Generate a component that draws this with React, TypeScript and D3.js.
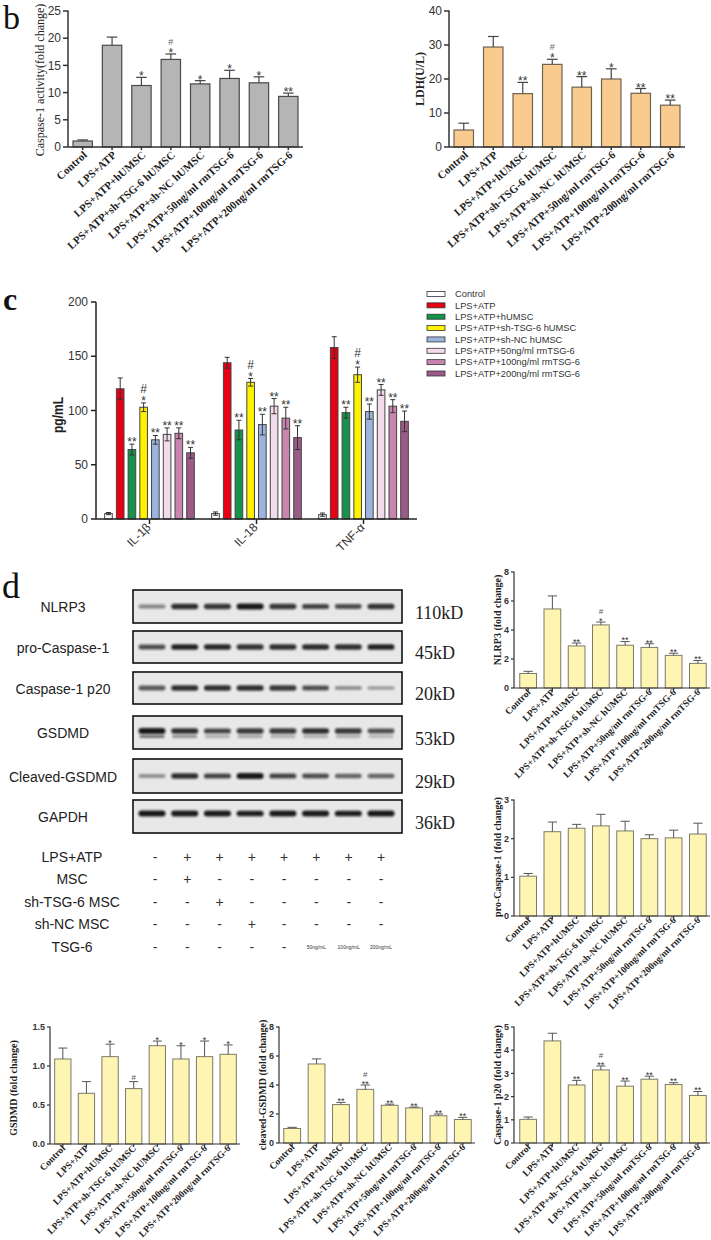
import React from "react";
import * as d3 from "d3";

const SERIF = "'Liberation Serif','Times New Roman',serif";
const SANS = "'Liberation Sans',Arial,Helvetica,sans-serif";

// ---------- data ----------
const groups = [
  "Control",
  "LPS+ATP",
  "LPS+ATP+hUMSC",
  "LPS+ATP+sh-TSG-6 hUMSC",
  "LPS+ATP+sh-NC hUMSC",
  "LPS+ATP+50ng/ml rmTSG-6",
  "LPS+ATP+100ng/ml rmTSG-6",
  "LPS+ATP+200ng/ml rmTSG-6",
];

// panel b
const casp1Activity = [1.1, 18.7, 11.3, 16.1, 11.6, 12.6, 11.8, 9.3];
const casp1ActivityErr = [0.2, 1.5, 1.5, 1.0, 0.6, 1.5, 1.1, 0.6];
const casp1ActivitySig = ["", "", "*", "#|*", "*", "*", "*", "**"];
const casp1ActivityTicks = [0, 5, 10, 15, 20, 25];

const ldh = [5.0, 29.4, 15.7, 24.3, 17.6, 20.0, 15.8, 12.3];
const ldhErr = [2.0, 3.1, 3.3, 1.5, 3.1, 3.0, 1.4, 1.5];
const ldhSig = ["", "", "**", "#|*", "**", "*", "**", "**"];
const ldhTicks = [0, 10, 20, 30, 40];

// panel c
const cytokines = ["IL-1β", "IL-18", "TNF-α"];
const il1b = [5, 120, 64, 103, 73, 78, 79, 61];
const il1bErr = [1, 10, 5, 4, 4, 6, 5, 5];
const il18 = [5, 144, 82, 126, 87, 104, 93, 75];
const il18Err = [1.5, 5, 9, 3.5, 9.5, 7, 10, 11];
const tnf = [4, 158, 98, 133, 99, 119, 104, 90];
const tnfErr = [1.5, 10, 5, 7, 7, 5, 6, 9.5];
const cytoSig = ["", "", "**", "#|*", "**", "**", "**", "**"];
const cytoTicks = [0, 50, 100, 150, 200];
const groupColors = ["#ffffff", "#e60012", "#16934a", "#fff200", "#9db5de", "#f3dcea", "#c985ad", "#9c5b87"];

// panel d – western blot (relative band intensity per lane)
const blotNames = ["NLRP3", "pro-Caspase-1", "Caspase-1 p20", "GSDMD", "Cleaved-GSDMD", "GAPDH"];
const blotKd = ["110kD", "45kD", "20kD", "53kD", "29kD", "36kD"];
const nlrp3Bands = [0.45, 0.85, 0.8, 0.95, 0.8, 0.75, 0.7, 0.82];
const proCaspBands = [0.7, 0.9, 0.88, 0.82, 0.84, 0.86, 0.84, 0.9];
const p20Bands = [0.65, 0.85, 0.85, 0.85, 0.8, 0.7, 0.4, 0.35];
const gsdmdBands = [0.95, 0.85, 0.75, 0.8, 0.8, 0.85, 0.8, 0.7];
const gsdmdLowerBands = [0.6, 0.45, 0.3, 0.35, 0.3, 0.3, 0.3, 0.25];
const cleavedBands = [0.4, 0.85, 0.75, 0.95, 0.75, 0.7, 0.6, 0.6];
const gapdhBands = [0.95, 0.93, 0.93, 0.92, 0.93, 0.93, 0.92, 0.94];

const treatLabels = ["LPS+ATP", "MSC", "sh-TSG-6 MSC", "sh-NC MSC", "TSG-6"];
const lpsAtpRow = ["-", "+", "+", "+", "+", "+", "+", "+"];
const mscRow = ["-", "+", "-", "-", "-", "-", "-", "-"];
const shTsgRow = ["-", "-", "+", "-", "-", "-", "-", "-"];
const shNcRow = ["-", "-", "-", "+", "-", "-", "-", "-"];
const tsg6Row = ["-", "-", "-", "-", "-", "50ng/mL", "100ng/mL", "200ng/mL"];

// densitometry
const nlrp3 = [1.0, 5.45, 2.9, 4.35, 2.95, 2.8, 2.25, 1.7];
const nlrp3Err = [0.15, 0.9, 0.2, 0.2, 0.25, 0.25, 0.15, 0.2];
const nlrp3Sig = ["", "", "**", "#|*", "**", "**", "**", "**"];
const proCasp = [1.03, 2.18, 2.27, 2.33, 2.2, 2.0, 2.02, 2.12];
const proCaspErr = [0.07, 0.25, 0.1, 0.3, 0.25, 0.1, 0.2, 0.28];
const proCaspSig = ["", "", "", "", "", "", "", ""];
const gsdmd = [1.09, 0.65, 1.12, 0.71, 1.26, 1.09, 1.12, 1.15];
const gsdmdErr = [0.14, 0.15, 0.16, 0.09, 0.06, 0.17, 0.2, 0.12];
const gsdmdSig = ["", "", "*", "#", "*", "*", "*", "*"];
const cleaved = [1.0, 5.45, 2.65, 3.7, 2.6, 2.42, 1.88, 1.62];
const cleavedErr = [0.08, 0.35, 0.15, 0.3, 0.08, 0.06, 0.12, 0.15];
const cleavedSig = ["", "", "**", "#|**", "**", "**", "**", "**"];
const p20 = [1.02, 4.4, 2.5, 3.15, 2.45, 2.75, 2.52, 2.05];
const p20Err = [0.1, 0.33, 0.2, 0.17, 0.22, 0.13, 0.08, 0.17];
const p20Sig = ["", "", "**", "#|**", "**", "**", "**", "**"];

// ---------- helpers ----------
function Sig({ text, cx, yErr, fs, hashFs, color, hashColor }: any) {
  if (!text) return null;
  const lines = text.split("|");
  let y = yErr - 2;
  const out: any[] = [];
  for (let i = lines.length - 1; i >= 0; i--) {
    const t = lines[i];
    if (t.includes("*")) {
      const base = y + 0.42 * fs;
      out.push(
        <text key={i} x={cx} y={base} fontSize={fs} fontFamily={SANS} fill={color} textAnchor="middle">
          {t}
        </text>
      );
      y = base - 0.74 * fs - 3;
    } else {
      out.push(
        <text key={i} x={cx} y={y} fontSize={hashFs} fontFamily={SANS} fill={hashColor} textAnchor="middle">
          {t}
        </text>
      );
      y = y - 0.72 * hashFs - 3;
    }
  }
  return <g>{out}</g>;
}

function BarPanel(p: any) {
  const n = p.values.length;
  const x = d3.scaleBand<number>().domain(d3.range(n)).range([p.bandX0, p.bandX1]).paddingInner(p.pad).paddingOuter(p.pad / 2);
  const y = d3.scaleLinear().domain([0, p.yMax]).range([p.yBottom, p.yTop]);
  const bw = x.bandwidth();
  const capW = bw * 0.55;
  const fmt = p.tickFormat || ((v: number) => String(v));
  return (
    <g>
      {p.values.map((v: number, i: number) => (
        <rect key={"b" + i} x={x(i)} y={y(v)} width={bw} height={p.yBottom - y(v)} fill={p.fill} stroke={p.stroke} strokeWidth={p.barStroke} />
      ))}
      {p.values.map((v: number, i: number) => {
        const cx = (x(i) as number) + bw / 2;
        const yt = y(v + p.errors[i]);
        return (
          <g key={"e" + i} stroke={p.errColor} strokeWidth={p.errWidth}>
            <line x1={cx} x2={cx} y1={y(v)} y2={yt} />
            <line x1={cx - capW / 2} x2={cx + capW / 2} y1={yt} y2={yt} />
          </g>
        );
      })}
      <line x1={p.axisX} x2={p.axisX} y1={p.yTop - 0.5} y2={p.yBottom} stroke={p.axisColor} strokeWidth={p.axisWidth} />
      <line x1={p.axisX} x2={p.bandX1} y1={p.yBottom} y2={p.yBottom} stroke={p.axisColor} strokeWidth={p.axisWidth} />
      {p.ticks.map((t: number) => (
        <g key={"t" + t}>
          <line x1={p.axisX - p.tickLen} x2={p.axisX} y1={y(t)} y2={y(t)} stroke={p.axisColor} strokeWidth={p.axisWidth} />
          <text x={p.axisX - p.tickLen - 2} y={y(t)} dy="0.35em" textAnchor="end" fontFamily={SANS} fontSize={p.tickFs} fontWeight={p.tickWeight} fill="#333">
            {fmt(t)}
          </text>
        </g>
      ))}
      {p.labels.map((l: string, i: number) => {
        const cx = (x(i) as number) + bw / 2;
        return (
          <g key={"x" + i}>
            <line x1={cx} x2={cx} y1={p.yBottom} y2={p.yBottom + p.xTick} stroke={p.axisColor} strokeWidth={p.axisWidth} />
            <text
              transform={`translate(${cx + p.xlDx},${p.yBottom + p.xlDy}) rotate(${p.xlRot})`}
              textAnchor="end"
              fontFamily={SERIF}
              fontWeight="bold"
              fontSize={p.xlFs}
              fill="#222"
            >
              {l}
            </text>
          </g>
        );
      })}
      <text
        transform={`translate(${p.yLabelX},${p.yLabelY}) rotate(-90)`}
        textAnchor="middle"
        dy="0.35em"
        fontFamily={SERIF}
        fontWeight={p.yLabelWeight}
        fontSize={p.yLabelFs}
        fill="#222"
      >
        {p.yLabel}
      </text>
      {p.sig.map((s: string, i: number) => (
        <Sig key={"s" + i} text={s} cx={(x(i) as number) + bw / 2} yErr={y(p.values[i] + p.errors[i])} fs={p.starFs} hashFs={p.hashFs} color="#333" hashColor={p.hashColor} />
      ))}
    </g>
  );
}

const smallStyle = {
  pad: 0.31,
  fill: "#fff5b3",
  stroke: "#7c7a6a",
  barStroke: 1,
  errColor: "#555",
  errWidth: 1,
  axisColor: "#333",
  axisWidth: 1.2,
  tickLen: 3,
  tickFs: 9,
  tickWeight: "bold",
  xTick: 3,
  xlDx: 3,
  xlDy: 5,
  xlRot: -45,
  xlFs: 9.5,
  yLabelWeight: "bold",
  yLabelFs: 10,
  starFs: 9,
  hashFs: 8,
  hashColor: "#555",
  labels: groups,
};

const bigStyle = {
  pad: 0.34,
  barStroke: 1.2,
  errColor: "#444",
  errWidth: 1.2,
  axisColor: "#333",
  axisWidth: 1.5,
  tickLen: 5,
  tickFs: 12,
  tickWeight: "normal",
  xTick: 3,
  xlDx: 5,
  xlDy: 9,
  xlRot: -42,
  xlFs: 11,
  yLabelFs: 12,
  starFs: 12,
  hashFs: 9,
  hashColor: "#666",
  labels: groups,
};

function GroupedPanel() {
  const x0 = 96, x1 = 417, yB = 519, yT = 302;
  const series = [il1b, il18, tnf];
  const errs = [il1bErr, il18Err, tnfErr];
  const xg = d3.scaleBand<string>().domain(cytokines).range([x0, x1]).paddingInner(0.14).paddingOuter(0.07);
  const xs = d3.scaleBand<number>().domain(d3.range(groups.length)).range([0, xg.bandwidth()]).paddingInner(0.35).paddingOuter(0.1);
  const y = d3.scaleLinear().domain([0, 200]).range([yB, yT]);
  const bw = xs.bandwidth();
  return (
    <g>
      {cytokines.map((c, gi) => (
        <g key={c} transform={`translate(${xg(c)},0)`}>
          {series[gi].map((v, i) => {
            const cx = (xs(i) as number) + bw / 2;
            const e = errs[gi][i];
            return (
              <g key={i}>
                <rect x={xs(i)} y={y(v)} width={bw} height={yB - y(v)} fill={groupColors[i]} stroke="#444" strokeWidth={1} />
                <g stroke="#333" strokeWidth={1}>
                  <line x1={cx} x2={cx} y1={y(v - e)} y2={y(v + e)} />
                  <line x1={cx - 2.5} x2={cx + 2.5} y1={y(v + e)} y2={y(v + e)} />
                  <line x1={cx - 2.5} x2={cx + 2.5} y1={y(v - e)} y2={y(v - e)} />
                </g>
                <Sig text={cytoSig[i]} cx={cx} yErr={y(v + e) - 1} fs={12} hashFs={12} color="#333" hashColor="#333" />
              </g>
            );
          })}
        </g>
      ))}
      <line x1={x0} x2={x0} y1={yT} y2={yB} stroke="#222" strokeWidth={1.5} />
      <line x1={x0} x2={x1} y1={yB} y2={yB} stroke="#222" strokeWidth={1.5} />
      {cytoTicks.map((t) => (
        <g key={t}>
          <line x1={x0 - 5} x2={x0} y1={y(t)} y2={y(t)} stroke="#222" strokeWidth={1.5} />
          <text x={x0 - 8} y={y(t)} dy="0.35em" textAnchor="end" fontFamily={SANS} fontSize={12} fill="#333">
            {t}
          </text>
        </g>
      ))}
      {cytokines.map((c) => {
        const cx = (xg(c) as number) + xg.bandwidth() / 2;
        return (
          <g key={c}>
            <line x1={cx} x2={cx} y1={yB} y2={yB + 5} stroke="#222" strokeWidth={1.5} />
            <text transform={`translate(${cx + 2},${yB + 9}) rotate(-45)`} textAnchor="end" fontFamily={SANS} fontSize={12} fill="#333">
              {c}
            </text>
          </g>
        );
      })}
      <text transform={`translate(58,415) rotate(-90) scale(0.8,1)`} textAnchor="middle" dy="0.35em" fontFamily={SANS} fontWeight="bold" fontSize={15} fill="#222">
        pg/mL
      </text>
    </g>
  );
}

function Legend() {
  const ly = d3.scaleLinear().domain([0, groups.length - 1]).range([294, 373.5]);
  return (
    <g>
      {groups.map((g, i) => (
        <g key={g}>
          <rect x={427} y={ly(i) - 2.5} width={18} height={5} fill={groupColors[i]} stroke="#333" strokeWidth={0.8} />
          <text x={455} y={ly(i)} dy="0.35em" fontFamily={SANS} fontSize={9.3} fill="#333">
            {g}
          </text>
        </g>
      ))}
    </g>
  );
}

function Blots() {
  const rows = [
    { y0: 590, y1: 623, bands: nlrp3Bands, off: 0 },
    { y0: 631, y1: 663, bands: proCaspBands, off: 0 },
    { y0: 672, y1: 704, bands: p20Bands, off: 0 },
    { y0: 716, y1: 749, bands: gsdmdBands, off: -1.5, lower: gsdmdLowerBands },
    { y0: 759, y1: 793, bands: cleavedBands, off: 0 },
    { y0: 800, y1: 833, bands: gapdhBands, off: -3 },
  ];
  const lane = d3.scalePoint<number>().domain(d3.range(8)).range([152, 381]);
  return (
    <g>
      {rows.map((r, ri) => {
        const cy = (r.y0 + r.y1) / 2 + r.off;
        return (
          <g key={ri}>
            <rect x={133} y={r.y0} width={269} height={r.y1 - r.y0} fill="#e8e8e8" stroke="#111" strokeWidth={1.6} />
            {r.bands.map((v, i) => {
              const cx = lane(i) as number;
              const h = 2.5 + v * 3.5;
              return (
                <g key={i}>
                  <rect x={cx - 13.5} y={cy - h / 2} width={27} height={h} rx={h / 2} fill="#111" opacity={v} filter="url(#blur)" />
                  {r.lower ? (
                    <rect x={cx - 12.5} y={cy + 4} width={25} height={3} rx={1.5} fill="#222" opacity={r.lower[i]} filter="url(#blur)" />
                  ) : null}
                </g>
              );
            })}
            <text x={63} y={(r.y0 + r.y1) / 2 + 1} dy="0.35em" textAnchor="middle" fontFamily={SANS} fontSize={14} fill="#222">
              {blotNames[ri]}
            </text>
            <text x={415} y={(r.y0 + r.y1) / 2 + 6} dy="0.35em" fontFamily={SERIF} fontSize={18} fill="#222">
              {blotKd[ri]}
            </text>
          </g>
        );
      })}
    </g>
  );
}

function TreatTable() {
  const rowsData = [lpsAtpRow, mscRow, shTsgRow, shNcRow, tsg6Row];
  const ry = d3.scaleLinear().domain([0, 4]).range([857, 947]);
  const lane = d3.scalePoint<number>().domain(d3.range(8)).range([155, 381]);
  return (
    <g>
      {treatLabels.map((l, ri) => (
        <g key={l}>
          <text x={72} y={ry(ri)} dy="0.35em" textAnchor="middle" fontFamily={SANS} fontSize={14} fill="#222">
            {l}
          </text>
          {rowsData[ri].map((s, i) => (
            <text
              key={i}
              x={lane(i)}
              y={ry(ri)}
              dy="0.35em"
              textAnchor="middle"
              fontFamily={SANS}
              fontSize={s.length > 1 ? 5 : 14}
              fill="#333"
            >
              {s}
            </text>
          ))}
        </g>
      ))}
    </g>
  );
}

export default function App() {
  return (
    <svg width={711} height={1240} viewBox="0 0 711 1240" style={{ position: "absolute", left: 0, top: 0, background: "#fff" }}>
      <defs>
        <filter id="blur" x="-20%" y="-150%" width="140%" height="400%">
          <feGaussianBlur stdDeviation="0.9" />
        </filter>
      </defs>
      <rect x={0} y={0} width={711} height={1240} fill="#fff" />

      <text x={3} y={29} fontFamily={SERIF} fontSize={34} fill="#111">b</text>
      <BarPanel
        {...bigStyle}
        values={casp1Activity}
        errors={casp1ActivityErr}
        sig={casp1ActivitySig}
        axisX={68}
        bandX0={68}
        bandX1={303}
        yBottom={147}
        yTop={11}
        yMax={25}
        ticks={casp1ActivityTicks}
        fill="#b5b5b5"
        stroke="#4a4a4a"
        yLabel="Caspase-1 activity(fold change)"
        yLabelX={40}
        yLabelY={80}
        yLabelWeight="normal"
      />
      <BarPanel
        {...bigStyle}
        values={ldh}
        errors={ldhErr}
        sig={ldhSig}
        axisX={449}
        bandX0={449}
        bandX1={685}
        yBottom={147}
        yTop={11}
        yMax={40}
        ticks={ldhTicks}
        fill="#f9cb8f"
        stroke="#6e6251"
        xlRot={-41}
        yLabel="LDH(U/L)"
        yLabelX={420}
        yLabelY={79}
        yLabelWeight="bold"
      />

      <text x={3} y={310} fontFamily={SERIF} fontWeight="bold" fontSize={32} fill="#111">c</text>
      <GroupedPanel />
      <Legend />

      <text x={2} y={598} fontFamily={SERIF} fontSize={36} fill="#111">d</text>
      <Blots />
      <TreatTable />

      <BarPanel
        {...smallStyle}
        values={nlrp3}
        errors={nlrp3Err}
        sig={nlrp3Sig}
        axisX={514}
        bandX0={516}
        bandX1={710}
        yBottom={688}
        yTop={572}
        yMax={8}
        ticks={[0, 2, 4, 6, 8]}
        yLabel="NLRP3 (fold change)"
        yLabelX={497}
        yLabelY={620}
      />
      <BarPanel
        {...smallStyle}
        values={proCasp}
        errors={proCaspErr}
        sig={proCaspSig}
        axisX={514}
        bandX0={516}
        bandX1={710}
        yBottom={916}
        yTop={800}
        yMax={3}
        ticks={[0, 1, 2, 3]}
        yLabel="pro-Caspase-1 (fold change)"
        yLabelX={497}
        yLabelY={857}
      />
      <BarPanel
        {...smallStyle}
        values={gsdmd}
        errors={gsdmdErr}
        sig={gsdmdSig}
        axisX={50}
        bandX0={51}
        bandX1={240}
        yBottom={1144}
        yTop={1027}
        yMax={1.5}
        ticks={[0, 0.5, 1.0, 1.5]}
        tickFormat={(v: number) => d3.format(".1f")(v)}
        yLabel="GSDMD (fold change)"
        yLabelX={13}
        yLabelY={1088}
      />
      <BarPanel
        {...smallStyle}
        values={cleaved}
        errors={cleavedErr}
        sig={cleavedSig}
        axisX={279}
        bandX0={280}
        bandX1={475}
        yBottom={1143}
        yTop={1027}
        yMax={8}
        ticks={[0, 2, 4, 6, 8]}
        yLabel="cleaved-GSDMD (fold change)"
        yLabelX={262}
        yLabelY={1085}
      />
      <BarPanel
        {...smallStyle}
        values={p20}
        errors={p20Err}
        sig={p20Sig}
        axisX={514}
        bandX0={516}
        bandX1={710}
        yBottom={1143}
        yTop={1027}
        yMax={5}
        ticks={[0, 1, 2, 3, 4, 5]}
        yLabel="Caspase-1 p20 (fold change)"
        yLabelX={497}
        yLabelY={1085}
      />
    </svg>
  );
}
